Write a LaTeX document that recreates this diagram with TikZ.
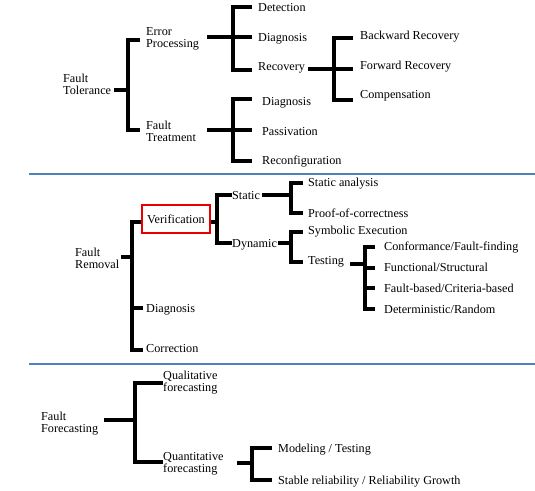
\documentclass[tikz,border=0pt]{standalone}
\usepackage{fontspec}
\setmainfont{Liberation Serif}
\begin{document}
\begin{tikzpicture}[x=1pt,y=-1pt,
  txt/.style={anchor=west,inner sep=0pt,align=left,font=\fontsize{12.2}{12}\selectfont,text height=8pt,text depth=2.5pt,yshift=-2pt},
  br/.style={line width=3.3pt,line join=miter,line cap=butt},
  sep/.style={line width=2pt,draw={rgb,255:red,79;green,129;blue,189}},
  vbox/.style={draw={rgb,255:red,230;green,0;blue,0},line width=1.8pt,minimum width=68pt,minimum height=28pt,inner sep=0pt,font=\fontsize{12.2}{12}\selectfont}]
\path[use as bounding box] (0,0) rectangle (535,490);

% ---------- Fault Tolerance ----------
\node[txt] (ft) at (63,90) {Fault\\Tolerance};
\node[txt] (ep) at (146,43) {Error\\Processing};
\node[txt] (ftr) at (146,137) {Fault\\Treatment};
\node[txt] (det) at (258,7) {Detection};
\node[txt] (dg1) at (258,37) {Diagnosis};
\node[txt] (rec) at (258,66) {Recovery};
\node[txt] (dg2) at (262,101) {Diagnosis};
\node[txt] (pas) at (262,131) {Passivation};
\node[txt] (rcf) at (262,160) {Reconfiguration};
\node[txt] (bwd) at (360,35) {Backward Recovery};
\node[txt] (fwd) at (360,65) {Forward Recovery};
\node[txt] (cmp) at (360,94) {Compensation};

\coordinate (a0) at (114,90);
\draw[br] (a0) -- (128,90);
\draw[br] (140,40) -- (128,40) -- (128,130) -- (140,130);

\coordinate (b0) at (207,37);
\draw[br] (b0) -- (252,37);
\draw[br] (252,7) -- (233,7) -- (233,70) -- (252,70);

\coordinate (c0) at (207,130);
\draw[br] (c0) -- (252,130);
\draw[br] (252,99) -- (233,99) -- (233,161) -- (252,161);

\coordinate (d0) at (308,69);
\draw[br] (d0) -- (353,69);
\draw[br] (353,38) -- (334,38) -- (334,100) -- (353,100);

\draw[sep] (29,174.3) -- (535,174.3);

% ---------- Fault Removal ----------
\node[txt] (fr) at (75,264) {Fault\\Removal};
\node[vbox] (ver) at (176,219) {Verification};
\node[txt] (dg3) at (146,308) {Diagnosis};
\node[txt] (cor) at (146,348) {Correction};
\node[txt] (sta) at (232,195) {Static};
\node[txt] (dyn) at (232,243) {Dynamic};
\node[txt] (san) at (308,182) {Static analysis};
\node[txt] (poc) at (308,213) {Proof-of-correctness};
\node[txt] (sym) at (308,230) {Symbolic Execution};
\node[txt] (tst) at (308,260) {Testing};
\node[txt] (cff) at (384,246) {Conformance/Fault-finding};
\node[txt] (fst) at (384,267) {Functional/Structural};
\node[txt] (fcb) at (384,288) {Fault-based/Criteria-based};
\node[txt] (drn) at (384,309) {Deterministic/Random};

\coordinate (e0) at (121,257);
\draw[br] (e0) -- (132,257);
\draw[br] (ver.west |- 0,222) -- (132,222) -- (132,350) -- (143,350);
\draw[br] (132,308) -- (143,308);

\draw[br] (ver.east |- 0,222) -- (217,222);
\draw[br] (232,195) -- (217,195) -- (217,243) -- (232,243);

\coordinate (f0) at (262,195);
\draw[br] (f0) -- (291,195);
\draw[br] (303,183) -- (291,183) -- (291,213) -- (303,213);

\coordinate (g0) at (278,243);
\draw[br] (g0) -- (291,243);
\draw[br] (303,232) -- (291,232) -- (291,262) -- (303,262);

\coordinate (h0) at (350,264);
\draw[br] (h0) -- (365,264);
\draw[br] (375,247) -- (365,247) -- (365,309) -- (375,309);
\draw[br] (365,268) -- (375,268);
\draw[br] (365,288) -- (375,288);

\draw[sep] (29,364) -- (535,364);

% ---------- Fault Forecasting ----------
\node[txt] (ff) at (41,428) {Fault\\Forecasting};
\node[txt] (qul) at (163,387) {Qualitative\\forecasting};
\node[txt] (qun) at (163,468) {Quantitative\\forecasting};
\node[txt] (mdt) at (278,448) {Modeling / Testing};
\node[txt] (srg) at (278,480) {Stable reliability / Reliability Growth};

\coordinate (i0) at (104,420);
\draw[br] (i0) -- (135,420);
\draw[br] (163,383) -- (135,383) -- (135,462) -- (163,462);

\coordinate (j0) at (237,463);
\draw[br] (j0) -- (252,463);
\draw[br] (272,448) -- (252,448) -- (252,480) -- (272,480);
\end{tikzpicture}
\end{document}
